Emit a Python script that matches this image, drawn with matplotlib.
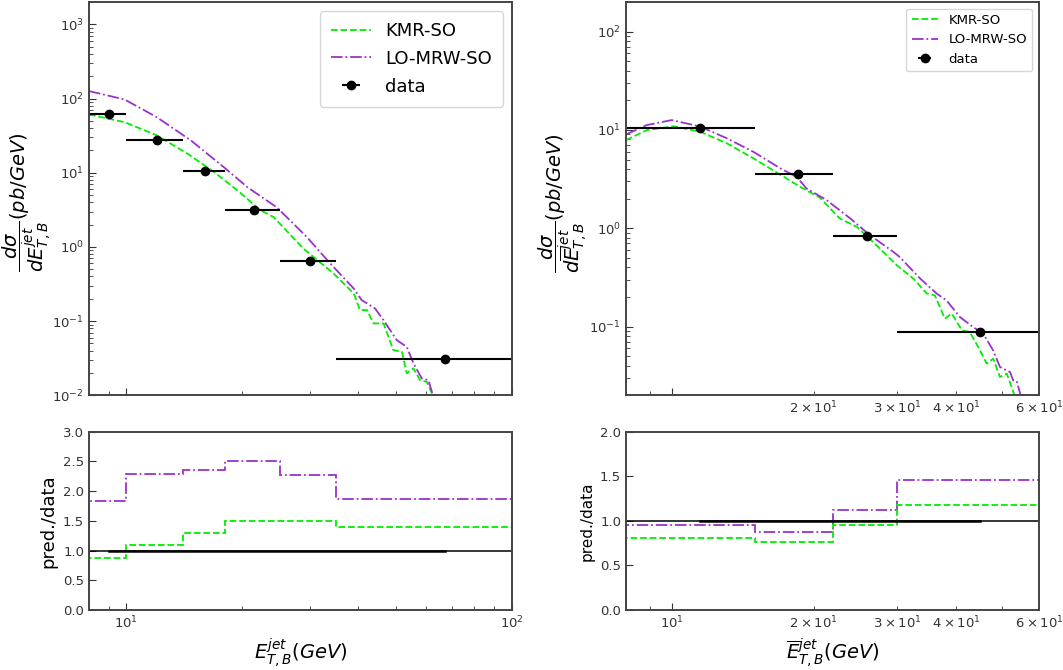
import matplotlib.pyplot as plt
import numpy as np

# ---- left panel: E_T,B^jet ----
left_kmr_x = [8, 9.9, 12, 14.4, 16.9, 19.4, 22.3, 24.1, 28.8, 34.5, 38.9, 40.4, 42.1, 43.8,
              46.5, 49.3, 51.9, 53.4, 55.6, 57.8, 60.2, 62.1, 63.5]
left_kmr_y = [61, 48, 31.9, 18.1, 10.2, 5.8, 3.12, 2.53, 0.95, 0.438, 0.236, 0.141, 0.141, 0.093,
              0.093, 0.0407, 0.0386, 0.0198, 0.0231, 0.016, 0.0152, 0.0106, 0.008]
left_mrw_x = [8, 9.9, 12, 14.7, 17.9, 20.6, 24.6, 29.4, 33.8, 38.9, 40.8, 44.2, 46.5, 50.3,
              53.4, 55.6, 58.4, 60.8, 62.6, 64]
left_mrw_y = [126, 97, 56, 27.3, 11.9, 6.4, 3.4, 1.36, 0.60, 0.275, 0.192, 0.148, 0.103, 0.0555,
              0.045, 0.027, 0.0169, 0.016, 0.0096, 0.007]

left_data_x = [9, 12, 16, 21.5, 30, 67]
left_data_y = [62, 27.5, 10.5, 3.1, 0.65, 0.031]
left_edges = [8, 10, 14, 18, 25, 35, 100]
left_ratio_kmr = [0.87, 1.1, 1.3, 1.5, 1.5, 1.4]
left_ratio_mrw = [1.83, 2.29, 2.36, 2.51, 2.28, 1.86]

# ---- right panel: mean E_T,B^jet ----
right_kmr_x = [8, 8.85, 10.1, 11.5, 13.1, 14.9, 17.0, 18.7, 20.6, 22.7, 24.7, 26.7, 30.0, 32.5,
               34.7, 36.1, 37.9, 39.2, 41.2, 42.8, 44.6, 46.5, 48.0, 49.6, 51.3, 53.4, 55, 57]
right_kmr_y = [7.87, 9.95, 10.9, 9.57, 7.29, 5.13, 3.5, 2.64, 2.05, 1.257, 1.03, 0.726, 0.42, 0.308,
               0.217, 0.208, 0.1206, 0.1356, 0.0917, 0.088, 0.062, 0.042, 0.0472, 0.0307, 0.0332,
               0.0192, 0.015, 0.011]
right_mrw_x = [8, 8.85, 10.0, 11.5, 13.1, 14.9, 17.0, 18.4, 19.3, 21.3, 23.9, 26.3, 29.5, 30.4,
               33.6, 36.4, 38.2, 40.8, 43.5, 45.7, 48.0, 49.6, 52.1, 52.9, 53.8, 55.1, 57]
right_mrw_y = [9.0, 11.2, 12.6, 10.8, 8.2, 5.98, 4.06, 3.33, 2.54, 1.93, 1.257, 0.85, 0.574, 0.511,
               0.308, 0.217, 0.185, 0.125, 0.099, 0.085, 0.057, 0.0388, 0.0345, 0.0284, 0.028,
               0.0186, 0.012]

right_data_x = [11.5, 18.5, 25.9, 45]
right_data_y = [10.5, 3.55, 0.836, 0.088]
right_edges = [8, 15, 22, 30, 60]
right_ratio_kmr = [0.81, 0.76, 0.95, 1.18]
right_ratio_mrw = [0.95, 0.88, 1.12, 1.46]

green = '#00ee00'
purple = '#9932CC'
spine_col = '#444444'


def style(ax):
    ax.tick_params(which='both', direction='in', colors='#333333', labelsize=9.5)
    ax.tick_params(which='major', length=5)
    ax.tick_params(which='minor', length=3)
    for s in ax.spines.values():
        s.set_color(spine_col)
        s.set_linewidth(1.4)


def xerrs(centers, edges):
    lo = [c - e for c, e in zip(centers, edges[:-1])]
    hi = [e - c for c, e in zip(centers, edges[1:])]
    return [lo, hi]


fig = plt.figure(figsize=(10.63, 6.70), dpi=100)
ax1 = fig.add_axes([0.0837, 0.41, 0.3977, 0.587])
ax2 = fig.add_axes([0.0837, 0.0896, 0.3977, 0.266])
ax3 = fig.add_axes([0.5889, 0.41, 0.3885, 0.587])
ax4 = fig.add_axes([0.5889, 0.0896, 0.3885, 0.266])

# left top
ax1.plot(left_kmr_x, left_kmr_y, '--', color=green, lw=1.3, label='KMR-SO')
ax1.plot(left_mrw_x, left_mrw_y, '-.', color=purple, lw=1.3, label='LO-MRW-SO')
ax1.errorbar(left_data_x, left_data_y, xerr=xerrs(left_data_x, left_edges), fmt='o',
             color='k', ms=6, lw=1.5, label='data')
ax1.set_xscale('log')
ax1.set_yscale('log')
ax1.set_xlim(8, 100)
ax1.set_ylim(0.01, 2000)
ax1.tick_params(axis='x', which='both', labelbottom=False)
ax1.set_ylabel(r'$\dfrac{d\sigma}{dE_{T,B}^{jet}}(pb/GeV)$', fontsize=14)
ax1.yaxis.set_label_coords(-0.082, 0.49)
ax1.legend(loc='upper right', fontsize=13, borderpad=0.6, labelspacing=0.55, handlelength=2.2)
style(ax1)

# left bottom
ax2.stairs(left_ratio_mrw, left_edges, color=purple, ls='-.', lw=1.3)
ax2.stairs(left_ratio_kmr, left_edges, color=green, ls='--', lw=1.3)
ax2.axhline(1, color='k', lw=1.1)
ax2.plot(left_data_x, np.ones(len(left_data_x)), color='k', lw=1.8)
ax2.set_xscale('log')
ax2.set_xlim(8, 100)
ax2.set_ylim(0, 3)
ax2.set_yticks([0, 0.5, 1, 1.5, 2, 2.5, 3])
ax2.set_ylabel('pred./data', fontsize=13)
ax2.set_xlabel(r'$E_{T,B}^{jet}(GeV)$', fontsize=14)
style(ax2)

# right top
ax3.plot(right_kmr_x, right_kmr_y, '--', color=green, lw=1.3, label='KMR-SO')
ax3.plot(right_mrw_x, right_mrw_y, '-.', color=purple, lw=1.3, label='LO-MRW-SO')
ax3.errorbar(right_data_x, right_data_y, xerr=xerrs(right_data_x, right_edges), fmt='o',
             color='k', ms=6, lw=1.5, label='data')
ax3.set_xscale('log')
ax3.set_yscale('log')
ax3.set_xlim(8, 60)
ax3.set_ylim(0.02, 200)
ax3.tick_params(axis='x', which='major', labelbottom=False)
ax3.set_ylabel(r'$\dfrac{d\sigma}{d\overline{E}_{T,B}^{jet}}(pb/GeV)$', fontsize=14)
ax3.yaxis.set_label_coords(-0.087, 0.49)
ax3.legend(loc='upper right', fontsize=9.5)
style(ax3)

# right bottom
ax4.stairs(right_ratio_mrw, right_edges, color=purple, ls='-.', lw=1.3)
ax4.stairs(right_ratio_kmr, right_edges, color=green, ls='--', lw=1.3)
ax4.axhline(1, color='k', lw=1.1)
ax4.plot(right_data_x, np.ones(len(right_data_x)), color='k', lw=1.8)
ax4.set_xscale('log')
ax4.set_xlim(8, 60)
ax4.set_ylim(0, 2)
ax4.set_yticks([0, 0.5, 1, 1.5, 2])
ax4.set_ylabel('pred./data', fontsize=11)
ax4.set_xlabel(r'$\overline{E}_{T,B}^{jet}(GeV)$', fontsize=14)
style(ax4)

fig.savefig('out.png', dpi=100)
